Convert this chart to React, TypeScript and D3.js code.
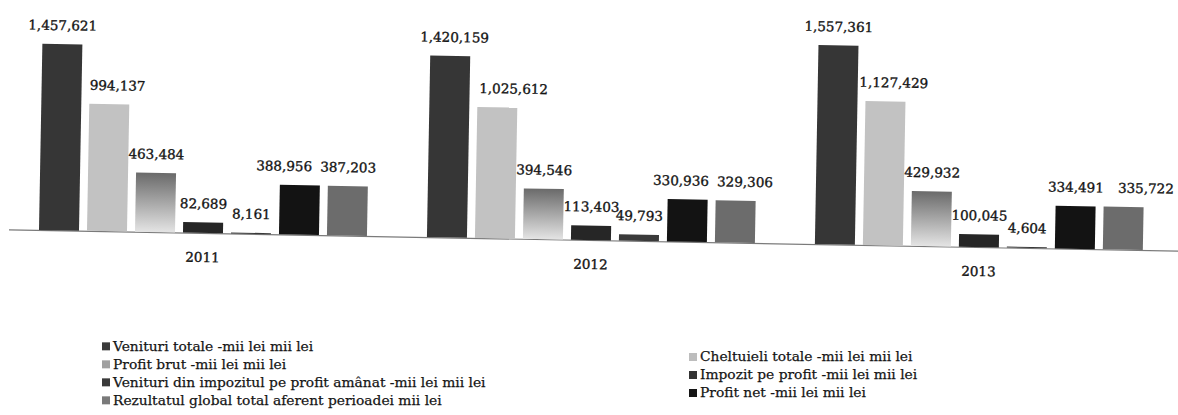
import React from 'react';
import * as d3 from 'd3';

// ---- data ----
const years = ['2011', '2012', '2013'];
const seriesNames = [
  'Venituri totale -mii lei mii lei',
  'Cheltuieli totale -mii lei mii lei',
  'Profit brut -mii lei mii lei',
  'Impozit pe profit -mii lei mii lei',
  'Venituri din impozitul pe profit amânat -mii lei mii lei',
  'Profit net -mii lei mii lei',
  'Rezultatul global total aferent perioadei mii lei',
];
const venituriTotale = [1457621, 1420159, 1557361];
const cheltuieliTotale = [994137, 1025612, 1127429];
const profitBrut = [463484, 394546, 429932];
const impozitPeProfit = [82689, 113403, 100045];
const venituriImpozitAmanat = [8161, 49793, 4604];
const profitNet = [388956, 330936, 334491];
const rezultatGlobal = [387203, 329306, 335722];

const seriesValues = [
  venituriTotale,
  cheltuieliTotale,
  profitBrut,
  impozitPeProfit,
  venituriImpozitAmanat,
  profitNet,
  rezultatGlobal,
];

// ---- styles ----
const fills = ['#363636', '#c2c2c2', 'url(#gradBrut)', '#262626', '#3a3a3a', '#131313', '#6c6c6c'];
const legendFills = ['#3a3a3a', '#bdbdbd', '#a0a0a0', '#333333', '#3a3a3a', '#151515', '#7a7a7a'];
// label horizontal nudges (Excel overlap avoidance), keyed series-year index
const labelNudge: Record<string, number> = {
  '1-0': 8,
  '5-0': -16,
  '0-1': 4,
  '1-1': 16,
  '5-1': -7,
  '6-1': 9,
  '1-2': 8,
  '6-2': 22,
};

const W = 1178;
const H = 415;
const baseY = 230;
const tilt = 1.04;
const pivotX = 39;

export default function App() {
  const x0 = d3.scaleBand<string>().domain(years).range([9, 1173]).paddingInner(0).paddingOuter(0);
  const x1 = d3
    .scaleBand<number>()
    .domain(d3.range(seriesNames.length))
    .range([30, 358])
    .paddingInner(1 / 6)
    .paddingOuter(0);
  const y = d3.scaleLinear().domain([0, 1800000]).range([baseY, 0]);
  const fmt = d3.format(',');

  const font = 'DejaVu Serif';
  const legendRows = [345, 363, 381, 399];
  const legendCols = [113, 700];
  const slope = Math.tan((tilt * Math.PI) / 180);

  return (
    <svg width={W} height={H} style={{ display: 'block', position: 'absolute', left: 0, top: 0, background: '#fff' }}>
      <defs>
        <linearGradient id="gradBrut" x1="0" y1="0" x2="0" y2="1">
          <stop offset="0%" stopColor="#6a6a6a" />
          <stop offset="100%" stopColor="#e4e4e4" />
        </linearGradient>
      </defs>
      <rect width={W} height={H} fill="#fff" />
      <g transform={`rotate(${tilt} ${pivotX} ${baseY})`}>
        <line
          x1={x0.range()[0]}
          x2={x0.range()[1] + 10}
          y1={baseY + 0.5}
          y2={baseY + 0.5}
          stroke="#7a7a7a"
          strokeWidth={1.2}
        />
        {years.map((yr, yi) => (
          <g key={yr} transform={`translate(${x0(yr)},0)`}>
            {seriesValues.map((vals, si) => {
              const v = vals[yi];
              const bx = x1(si)!;
              const bw = x1.bandwidth();
              const top = y(v);
              const h = Math.max(baseY - top, 1);
              const dx = labelNudge[`${si}-${yi}`] || 0;
              return (
                <g key={si}>
                  <rect x={bx} y={baseY - h} width={bw} height={h} fill={fills[si]} />
                  <text
                    x={bx + bw / 2 + dx}
                    y={baseY - h - 14}
                    textAnchor="middle"
                    fontFamily={font}
                    fontSize={13.5}
                    fill="#151515"
                    stroke="#151515"
                    strokeWidth={0.35}
                  >
                    {fmt(v)}
                  </text>
                </g>
              );
            })}
            <text
              x={x0.bandwidth() / 2}
              y={baseY + 29}
              textAnchor="middle"
              fontFamily={font}
              fontSize={13.5}
              fill="#151515"
              stroke="#151515"
              strokeWidth={0.35}
            >
              {yr}
            </text>
          </g>
        ))}
      </g>
      {seriesNames.map((name, i) => {
        const col = i % 2;
        const row = Math.floor(i / 2);
        const tx = legendCols[col];
        const ty = legendRows[row] + (tx - pivotX) * slope;
        return (
          <g key={name}>
            <rect x={tx - 11} y={ty - 4} width={8} height={8} fill={legendFills[i]} />
            <text
              x={tx}
              y={ty + 4.5}
              fontFamily={font}
              fontSize={13.8}
              fill="#151515"
              stroke="#151515"
              strokeWidth={0.25}
            >
              {name}
            </text>
          </g>
        );
      })}
    </svg>
  );
}
